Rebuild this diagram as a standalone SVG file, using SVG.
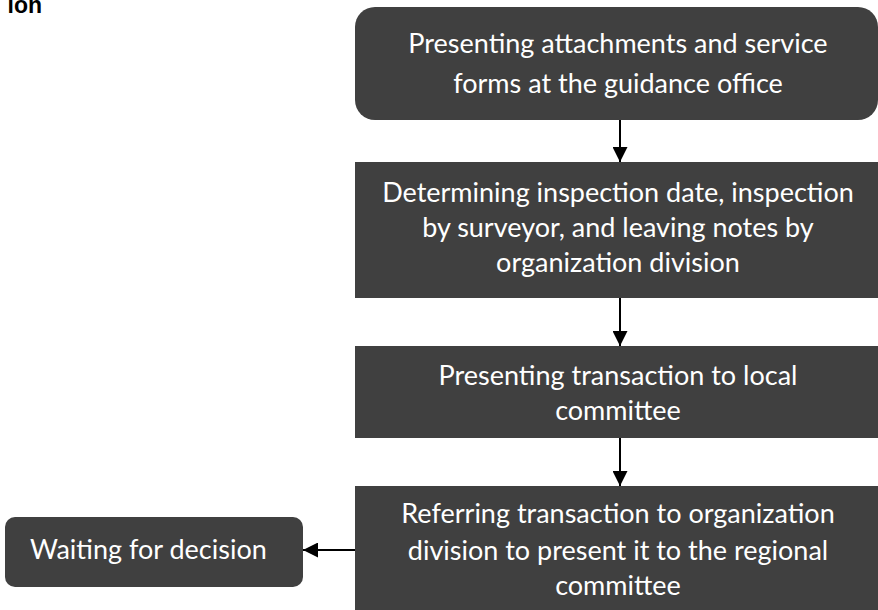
<svg xmlns="http://www.w3.org/2000/svg" width="878" height="610" viewBox="0 0 878 610">
  <defs>
    <marker id="arrowhead" viewBox="0 0 10 10" refX="10" refY="5" markerWidth="15" markerHeight="15" markerUnits="userSpaceOnUse" orient="auto">
      <path d="M0,0 L10,5 L0,10 Z" fill="#000"/>
    </marker>
    <style>
      .box { fill: #404040; }
      .label { font-family: Lato, "Open Sans", sans-serif; font-size: 27px; fill: #ffffff; text-anchor: middle; }
      .edge { stroke: #000; stroke-width: 2; fill: none; }
      .heading { font-family: "Liberation Sans", Arial, sans-serif; font-weight: bold; font-size: 23px; fill: #000; }
    </style>
  </defs>
  <rect width="878" height="610" fill="#ffffff"/>

  <text class="heading" x="42" y="13" text-anchor="end">ion</text>

  <g id="connectors">
    <line class="edge" x1="620" y1="120" x2="620" y2="162" marker-end="url(#arrowhead)"/>
    <line class="edge" x1="620" y1="298" x2="620" y2="346" marker-end="url(#arrowhead)"/>
    <line class="edge" x1="620" y1="438" x2="620" y2="486" marker-end="url(#arrowhead)"/>
    <line class="edge" x1="355" y1="550" x2="303" y2="550" marker-end="url(#arrowhead)"/>
  </g>

  <g id="node-guidance-office">
    <rect class="box" x="355" y="7" width="523" height="113" rx="20" ry="20"/>
    <text class="label" x="618" y="53">Presenting attachments and service</text>
    <text class="label" x="618" y="93">forms at the guidance office</text>
  </g>

  <g id="node-inspection">
    <rect class="box" x="355" y="162" width="523" height="136"/>
    <text class="label" x="618" y="202">Determining inspection date, inspection</text>
    <text class="label" x="618" y="237">by surveyor, and leaving notes by</text>
    <text class="label" x="618" y="272">organization division</text>
  </g>

  <g id="node-local-committee">
    <rect class="box" x="355" y="346" width="523" height="92"/>
    <text class="label" x="618" y="385">Presenting transaction to local</text>
    <text class="label" x="618" y="420">committee</text>
  </g>

  <g id="node-regional-committee">
    <rect class="box" x="355" y="486" width="523" height="124"/>
    <text class="label" x="618" y="523">Referring transaction to organization</text>
    <text class="label" x="618" y="560">division to present it to the regional</text>
    <text class="label" x="618" y="595">committee</text>
  </g>

  <g id="node-waiting">
    <rect class="box" x="5" y="517" width="298" height="70" rx="10" ry="10"/>
    <text class="label" x="30" y="559" style="text-anchor:start">Waiting for decision</text>
  </g>
</svg>
